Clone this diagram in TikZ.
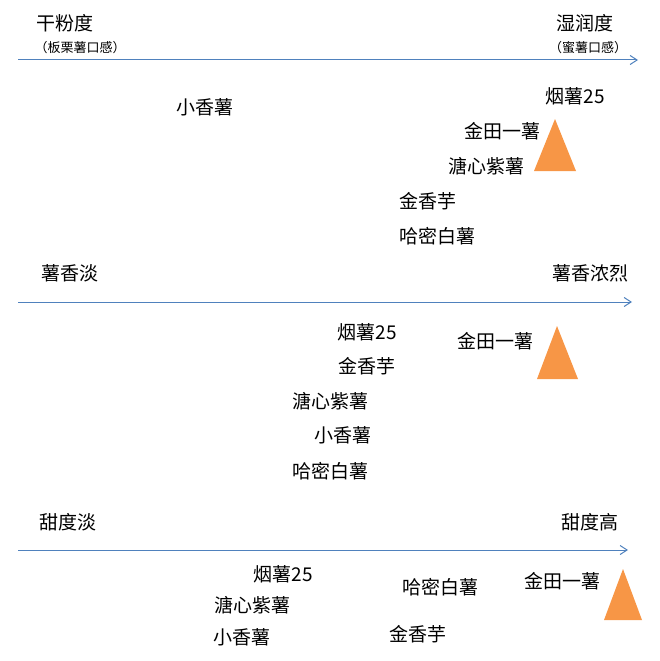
\documentclass[tikz,border=0pt]{standalone}
\usepackage{fontspec}
\setmainfont{Noto Sans CJK SC}
\usetikzlibrary{arrows.meta}
\begin{document}
\begin{tikzpicture}[x=1pt,y=-1pt,
  lbl/.style={font=\fontsize{19}{21}\selectfont,inner sep=0pt},
  sub/.style={font=\fontsize{13}{15}\selectfont,inner sep=0pt},
  axis/.style={draw=axisblue,line width=1pt,-{Straight Barb[length=7pt,width=9pt]}},
  tri/.style={fill=triorange,draw=none}]
\definecolor{axisblue}{HTML}{4F81BD}
\definecolor{triorange}{HTML}{F79646}
\useasboundingbox (0,0) rectangle (660,661);
% axis 1
\coordinate (a1s) at (18,60); \coordinate (a1e) at (638,60);
\draw[axis] (a1s) -- (a1e);
\node[lbl] (t1a) at (65,23) {干粉度};
\node[sub] (t1b) at (80,48) {（板栗薯口感）};
\node[lbl] (t1c) at (585,23) {湿润度};
\node[sub] (t1d) at (588,48) {（蜜薯口感）};
\node[lbl] (p1) at (575,96) {烟薯25};
\node[lbl] (p2) at (205,107) {小香薯};
\node[lbl] (p3) at (502,131) {金田一薯};
\node[lbl] (p4) at (486,166) {溏心紫薯};
\node[lbl] (p5) at (428,201) {金香芋};
\node[lbl] (p6) at (437,236) {哈密白薯};
\fill[tri] (555,119) -- (576,171) -- (534,171) -- cycle;
% axis 2
\coordinate (a2s) at (18,302); \coordinate (a2e) at (632,302);
\draw[axis] (a2s) -- (a2e);
\node[lbl] (t2a) at (70,273) {薯香淡};
\node[lbl] (t2b) at (590,273) {薯香浓烈};
\node[lbl] (q1) at (367,332) {烟薯25};
\node[lbl] (q2) at (495,341) {金田一薯};
\node[lbl] (q3) at (367,366) {金香芋};
\node[lbl] (q4) at (330,401) {溏心紫薯};
\node[lbl] (q5) at (343,435) {小香薯};
\node[lbl] (q6) at (330,471) {哈密白薯};
\fill[tri] (557,326) -- (578,379) -- (537,379) -- cycle;
% axis 3
\coordinate (a3s) at (18,550); \coordinate (a3e) at (628,550);
\draw[axis] (a3s) -- (a3e);
\node[lbl] (t3a) at (68,522) {甜度淡};
\node[lbl] (t3b) at (590,522) {甜度高};
\node[lbl] (r1) at (283,574) {烟薯25};
\node[lbl] (r2) at (440,587) {哈密白薯};
\node[lbl] (r3) at (562,581) {金田一薯};
\node[lbl] (r4) at (252,605) {溏心紫薯};
\node[lbl] (r5) at (242,637) {小香薯};
\node[lbl] (r6) at (418,634) {金香芋};
\fill[tri] (623,569) -- (642,620) -- (604,620) -- cycle;
\end{tikzpicture}
\end{document}
